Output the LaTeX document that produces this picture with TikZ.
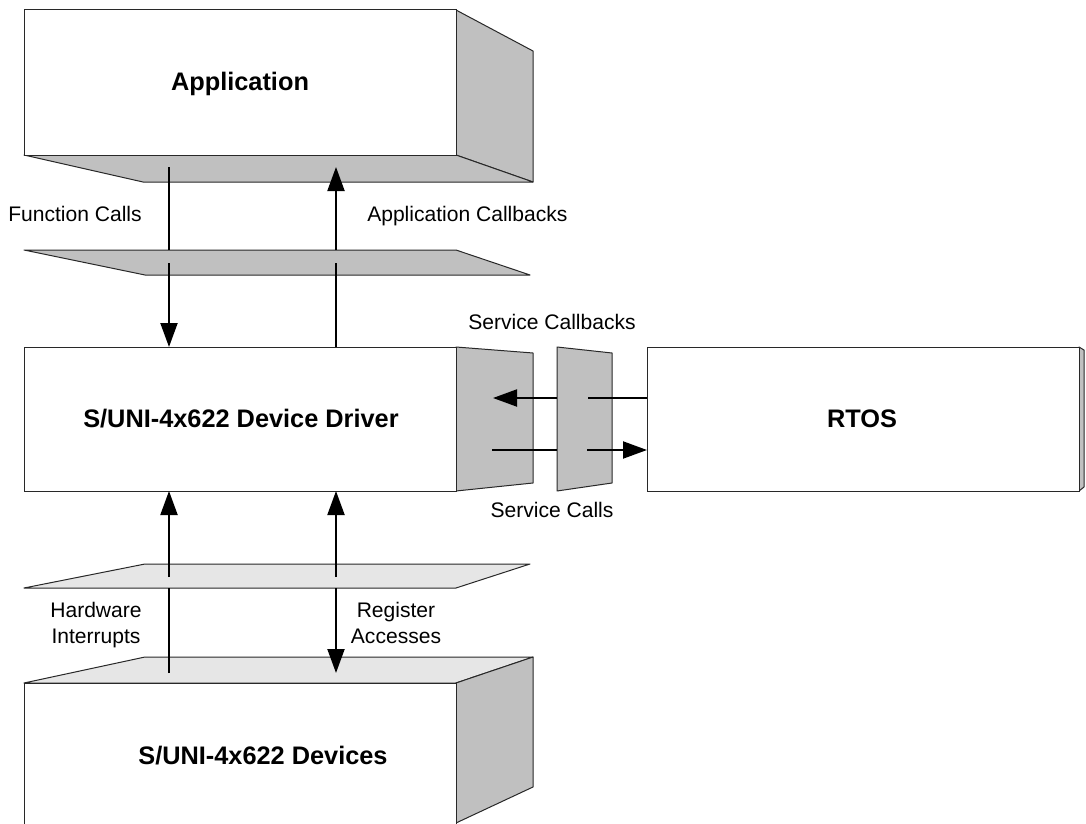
\documentclass[tikz,border=0pt]{standalone}
\usepackage{fontspec}
\setmainfont{Liberation Sans}
\usetikzlibrary{arrows.meta}
\definecolor{darkface}{RGB}{192,192,192}
\definecolor{lightface}{RGB}{230,230,230}
\definecolor{edgecol}{RGB}{40,40,40}
\begin{document}
\begin{tikzpicture}[x=0.75pt,y=-0.75pt,
  face/.style={fill=darkface,draw=edgecol,line width=0.75pt,line join=round},
  lface/.style={fill=lightface,draw=edgecol,line width=0.75pt,line join=round},
  front/.style={fill=white,draw=edgecol,line width=0.75pt},
  big/.style={font=\fontsize{19}{23}\selectfont\bfseries,anchor=base,inner sep=0pt},
  lbl/.style={font=\fontsize{15.8}{19.5}\selectfont,inner sep=0pt},
  flow/.style={line width=1.5pt,black},
  head/.style={-{Triangle[length=18pt,width=12.75pt]}}]
\useasboundingbox (0,0) rectangle (1086,824);
\clip (0,0) rectangle (1086,824);

% Application box
\draw[face] (456,10) -- (533,51) -- (533,182) -- (456,155) -- cycle;
\draw[face] (24,155) -- (456,155) -- (533,182) -- (143,182) -- cycle;
\draw[front] (24,10) rectangle (456,155);
\node[big] (app) at (240,91) {Application};

% upper shelf
\draw[face] (24,250) -- (456,250) -- (530,275) -- (145,275) -- cycle;

% Driver box
\draw[face] (456,347) -- (533,353) -- (533,483) -- (456,491) -- cycle;
\draw[front] (24,347) rectangle (456,491);
\node[big] (drv) at (241,427) {S/UNI-4x622 Device Driver};

% plate between driver and RTOS
\draw[face] (557,347) -- (612,353) -- (612,483) -- (557,491) -- cycle;

% RTOS box
\draw[face] (1079,347) -- (1084,350) -- (1084,487) -- (1079,491) -- cycle;
\draw[front] (647,347) rectangle (1079,491);
\node[big] (rtos) at (862,427) {RTOS};

% lower shelf
\draw[lface] (145,564) -- (530,564) -- (456,588) -- (24,588) -- cycle;

% Devices box
\draw[lface] (24,683) -- (145,657) -- (533,657) -- (456,683) -- cycle;
\draw[face] (456,683) -- (533,657) -- (533,787) -- (456,823) -- cycle;
\draw[front] (24,683) rectangle (456,830);
\node[big] (dev) at (263,764) {S/UNI-4x622 Devices};

% connector coordinates
\coordinate (fc1) at (169,167); \coordinate (fc2) at (169,250);
\coordinate (fc3) at (169,263); \coordinate (fc4) at (169,347);
\coordinate (ac1) at (336,347); \coordinate (ac2) at (336,263);
\coordinate (ac3) at (336,250); \coordinate (ac4) at (336,167);
\coordinate (hw1) at (169,673); \coordinate (hw2) at (169,588);
\coordinate (hw3) at (169,577); \coordinate (hw4) at (169,491);
\coordinate (ra1) at (336,577); \coordinate (ra2) at (336,491);
\coordinate (ra3) at (336,588); \coordinate (ra4) at (336,673);
\coordinate (sc1) at (647,398); \coordinate (sc2) at (588,398);
\coordinate (sc3) at (557,398); \coordinate (sc4) at (493,398);
\coordinate (sv1) at (492,450); \coordinate (sv2) at (557,450);
\coordinate (sv3) at (587,450); \coordinate (sv4) at (647,450);

% connectors
\draw[flow] (fc1) -- (fc2);
\draw[flow,head] (fc3) -- (fc4);
\draw[flow] (ac1) -- (ac2);
\draw[flow,head] (ac3) -- (ac4);
\draw[flow] (hw1) -- (hw2);
\draw[flow,head] (hw3) -- (hw4);
\draw[flow,head] (ra1) -- (ra2);
\draw[flow,head] (ra3) -- (ra4);
\draw[flow] (sc1) -- (sc2);
\draw[flow,head] (sc3) -- (sc4);
\draw[flow] (sv1) -- (sv2);
\draw[flow,head] (sv3) -- (sv4);

% labels
\node[lbl,anchor=base west] (lfc) at (8,221) {Function Calls};
\node[lbl,anchor=base west] (lac) at (367,221) {Application Callbacks};
\node[lbl,anchor=base] (lsc) at (552,329) {Service Callbacks};
\node[lbl,anchor=base] (lsv) at (552,517) {Service Calls};
\node[lbl,align=center,anchor=north] (lhw) at (96,602) {Hardware\\Interrupts};
\node[lbl,align=center,anchor=north] (lra) at (396,602) {Register\\Accesses};
\end{tikzpicture}
\end{document}
